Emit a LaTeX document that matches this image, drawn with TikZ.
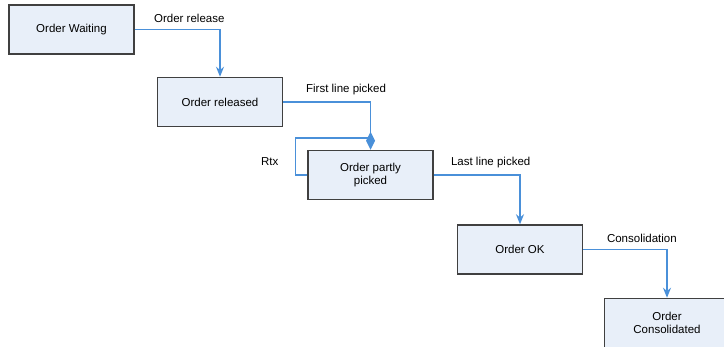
\documentclass[tikz,border=0pt]{standalone}
\usepackage{fontspec}
\setmainfont{Liberation Sans}
\usetikzlibrary{arrows.meta, positioning}
\definecolor{boxfill}{RGB}{232, 239, 249}
\definecolor{boxline}{RGB}{64, 64, 64}
\definecolor{flowblue}{RGB}{74, 144, 217}

\begin{document}
\begin{tikzpicture}[x=1pt, y=-1pt,
    state/.style={rectangle, draw=boxline, fill=boxfill, line width=1.5pt, minimum width=125pt, minimum height=49pt, align=center, font=\fontsize{11.5}{13}\selectfont},
    arrow/.style={line width=1.3pt, draw=flowblue, -{Stealth[length=10pt, width=8pt]}},
    joinarrow/.style={line width=1.3pt, draw=flowblue, -{Turned Square[length=18pt, width=9pt]}},
    loopline/.style={line width=1.3pt, draw=flowblue},
    lbl/.style={font=\fontsize{11.5}{13}\selectfont, text=black, above=3pt}
]
    \useasboundingbox (0,0) rectangle (724,346);
    \clip (0,0) rectangle (724,346);

    \node[state] (waiting) at (71.5, 29.5) {Order Waiting};
    \node[state] (released) at (220, 102) {Order released};
    \node[state] (partly) at (370.5, 175) {Order partly\\picked};
    \node[state] (ok) at (520, 249.5) {Order OK};
    \node[state] (consol) at (667, 323) {Order\\Consolidated};
    \coordinate (rtxjoin) at (370.5, 138);

    \draw[arrow] (waiting.east) -| node[lbl, pos=0.32] {Order release} (released.north);
    \draw[joinarrow] (released.east) -| node[lbl, pos=0.36] {First line picked} (partly.north);
    \draw[loopline] (partly.west) -- ++(-12,0) |- node[pos=0.18, left=13pt, font=\fontsize{11.5}{13}\selectfont] {Rtx} (rtxjoin);
    \draw[arrow] (partly.east) -| node[lbl, pos=0.33] {Last line picked} (ok.north);
    \draw[arrow] (ok.east) -| node[lbl, pos=0.35] {Consolidation} (consol.north);
\end{tikzpicture}
\end{document}
